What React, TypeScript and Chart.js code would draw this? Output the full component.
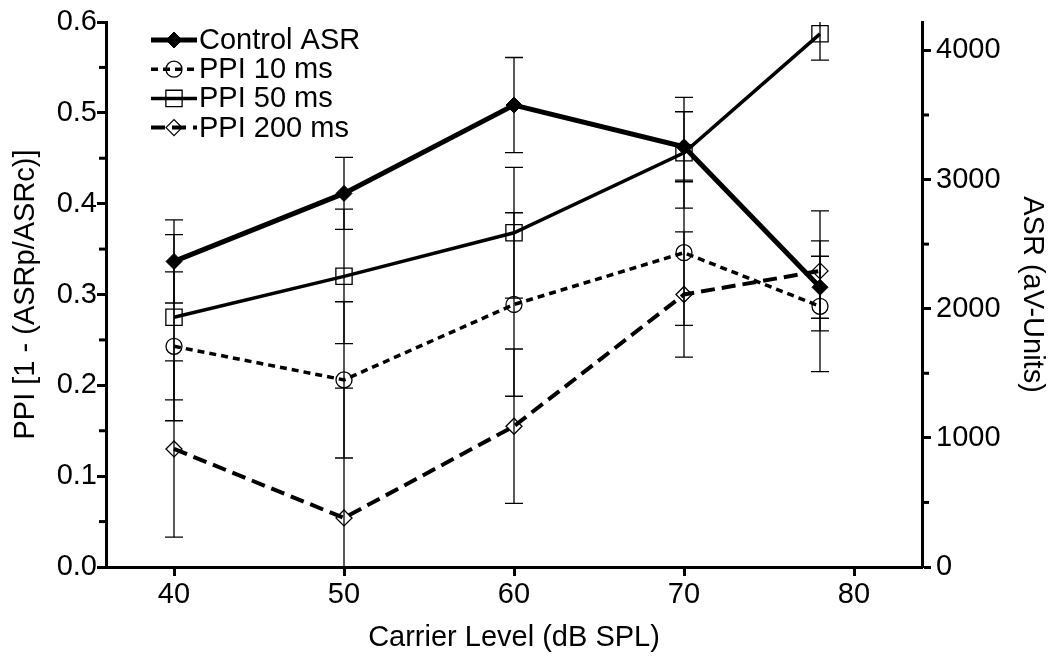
import React, { useEffect, useRef } from 'react';
import { Chart, registerables } from 'chart.js';

Chart.register(...registerables);

// ---- Data ----
const carrierLevels = [40, 50, 60, 70, 78];

const controlASR = [2366, 2893, 3577, 3254, 2166];
const controlASRErr = [322, 279, 368, 271, 240];

const ppi10 = [0.243, 0.206, 0.289, 0.346, 0.287];
const ppi10Err = [0.082, 0.086, 0.101, 0.08, 0.072];

const ppi50 = [0.275, 0.32, 0.368, 0.456, 0.587];
const ppi50Err = [0.091, 0.074, 0.072, 0.061, 0.029];

const ppi200 = [0.13, 0.054, 0.155, 0.3, 0.326];
const ppi200Err = [0.097, 0.143, 0.085, 0.069, 0.066];

const xTickValues = [40, 50, 60, 70, 80];
const leftTickValues = [0, 0.1, 0.2, 0.3, 0.4, 0.5, 0.6];
const leftMinorTicks = [0.05, 0.15, 0.25, 0.35, 0.45, 0.55];
const rightTickValues = [0, 1000, 2000, 3000, 4000];
const rightMinorTicks = [500, 1500, 2500, 3500];

const seriesLabels = ['Control ASR', 'PPI 10 ms', 'PPI 50 ms', 'PPI 200 ms'];

const xTitle = 'Carrier Level (dB SPL)';
const leftTitle = 'PPI [1 - (ASRp/ASRc)]';
const rightTitle = 'ASR (aV-Units)';

// ---- Styling ----
const FAMILY = '"Liberation Sans", Arial, Helvetica, sans-serif';
const FONT_SIZE = 29;
const fontObj = { family: FAMILY, size: FONT_SIZE, lineHeight: 1 };

function toXY(ys: number[]) {
  return carrierLevels.map((x, i) => ({ x, y: ys[i] }));
}

function drawMarker(ctx: CanvasRenderingContext2D, style: string, x: number, y: number, r: number, fill: string, bw: number) {
  ctx.save();
  ctx.beginPath();
  if (style === 'circle') {
    ctx.arc(x, y, r, 0, Math.PI * 2);
  } else if (style === 'rect') {
    const s = Math.SQRT1_2 * r;
    ctx.rect(x - s, y - s, 2 * s, 2 * s);
  } else {
    ctx.moveTo(x - r, y);
    ctx.lineTo(x, y - r);
    ctx.lineTo(x + r, y);
    ctx.lineTo(x, y + r);
    ctx.closePath();
  }
  ctx.fillStyle = fill;
  ctx.fill();
  ctx.lineWidth = bw;
  ctx.strokeStyle = '#000';
  ctx.setLineDash([]);
  ctx.stroke();
  ctx.restore();
}

const errorBarPlugin = {
  id: 'errorBars',
  beforeDatasetsDraw(chart: any) {
    const ctx = chart.ctx;
    const area = chart.chartArea;
    ctx.save();
    ctx.beginPath();
    ctx.rect(area.left, area.top, area.right - area.left, area.bottom - area.top);
    ctx.clip();
    ctx.strokeStyle = '#000';
    ctx.lineWidth = 1.3;
    ctx.setLineDash([]);
    chart.data.datasets.forEach((ds: any, i: number) => {
      const meta = chart.getDatasetMeta(i);
      const yScale = chart.scales[ds.yAxisID];
      const errs: number[] = ds.errors || [];
      meta.data.forEach((pt: any, j: number) => {
        const v = ds.data[j].y;
        const e = errs[j];
        if (e == null) return;
        const x = pt.x;
        const yt = yScale.getPixelForValue(v + e);
        const yb = yScale.getPixelForValue(v - e);
        const cap = 9;
        ctx.beginPath();
        ctx.moveTo(x, yt);
        ctx.lineTo(x, yb);
        ctx.moveTo(x - cap, yt);
        ctx.lineTo(x + cap, yt);
        ctx.moveTo(x - cap, yb);
        ctx.lineTo(x + cap, yb);
        ctx.stroke();
      });
    });
    ctx.restore();
  },
};

const minorTickPlugin = {
  id: 'minorTicks',
  afterDraw(chart: any) {
    const ctx = chart.ctx;
    const area = chart.chartArea;
    const yl = chart.scales.y;
    const yr = chart.scales.y1;
    ctx.save();
    ctx.strokeStyle = '#000';
    ctx.lineWidth = 3;
    leftMinorTicks.forEach((v) => {
      const py = yl.getPixelForValue(v);
      ctx.beginPath();
      ctx.moveTo(area.left, py);
      ctx.lineTo(area.left - 7, py);
      ctx.stroke();
    });
    rightMinorTicks.forEach((v) => {
      const py = yr.getPixelForValue(v);
      ctx.beginPath();
      ctx.moveTo(area.right, py);
      ctx.lineTo(area.right + 7, py);
      ctx.stroke();
    });
    ctx.restore();
  },
};

const legendPlugin = {
  id: 'insideLegend',
  afterDraw(chart: any) {
    const ctx = chart.ctx;
    const x0 = 151;
    const x1 = 197;
    const top = 40;
    const gap = 29.2;
    chart.data.datasets.forEach((ds: any, i: number) => {
      const yRow = top + i * gap;
      ctx.save();
      ctx.strokeStyle = '#000';
      ctx.lineWidth = ds.borderWidth;
      ctx.setLineDash(ds.borderDash || []);
      ctx.beginPath();
      ctx.moveTo(x0, yRow);
      ctx.lineTo(x1, yRow);
      ctx.stroke();
      ctx.setLineDash([]);
      drawMarker(ctx, ds.pointStyle, (x0 + x1) / 2, yRow, ds.pointRadius, ds.pointBackgroundColor, ds.pointBorderWidth);
      ctx.fillStyle = '#000';
      ctx.font = `${FONT_SIZE}px ${FAMILY}`;
      ctx.textBaseline = 'middle';
      ctx.textAlign = 'left';
      ctx.fillText(ds.label, x1 + 2, yRow + 1);
      ctx.restore();
    });
  },
};

export default function App() {
  const canvasRef = useRef<HTMLCanvasElement | null>(null);

  useEffect(() => {
    if (!canvasRef.current) return;
    const chart = new Chart(canvasRef.current, {
      type: 'line',
      data: {
        datasets: [
          {
            label: seriesLabels[0],
            data: toXY(controlASR),
            errors: controlASRErr,
            yAxisID: 'y1',
            borderColor: '#000',
            borderWidth: 5,
            pointStyle: 'rectRot',
            pointRadius: 8,
            pointBackgroundColor: '#000',
            pointBorderColor: '#000',
            pointBorderWidth: 1,
            tension: 0,
          } as any,
          {
            label: seriesLabels[1],
            data: toXY(ppi10),
            errors: ppi10Err,
            yAxisID: 'y',
            borderColor: '#000',
            borderWidth: 3.5,
            borderDash: [7, 5],
            pointStyle: 'circle',
            pointRadius: 8,
            pointBackgroundColor: 'rgba(255,255,255,0)',
            pointBorderColor: '#000',
            pointBorderWidth: 1.3,
            tension: 0,
          } as any,
          {
            label: seriesLabels[2],
            data: toXY(ppi50),
            errors: ppi50Err,
            yAxisID: 'y',
            borderColor: '#000',
            borderWidth: 3.5,
            pointStyle: 'rect',
            pointRadius: 11.5,
            pointBackgroundColor: 'rgba(255,255,255,0)',
            pointBorderColor: '#000',
            pointBorderWidth: 1.3,
            tension: 0,
          } as any,
          {
            label: seriesLabels[3],
            data: toXY(ppi200),
            errors: ppi200Err,
            yAxisID: 'y',
            borderColor: '#000',
            borderWidth: 4,
            borderDash: [14, 7],
            pointStyle: 'rectRot',
            pointRadius: 8,
            pointBackgroundColor: 'rgba(255,255,255,0)',
            pointBorderColor: '#000',
            pointBorderWidth: 1.3,
            tension: 0,
          } as any,
        ],
      },
      options: {
        animation: false,
        responsive: true,
        maintainAspectRatio: false,
        layout: { padding: { top: 22, left: 0, right: 0, bottom: 0 } },
        plugins: {
          legend: { display: false },
          tooltip: { enabled: false },
        },
        scales: {
          x: {
            type: 'linear',
            position: 'bottom',
            min: 36,
            max: 84,
            afterBuildTicks: (scale: any) => {
              scale.ticks = xTickValues.map((value) => ({ value }));
            },
            afterFit: (scale: any) => {
              scale.height = 96;
            },
            ticks: {
              autoSkip: false,
              maxRotation: 0,
              padding: 4,
              color: '#000',
              font: fontObj,
              callback: (v: any) => String(v),
            },
            grid: {
              drawOnChartArea: false,
              drawTicks: true,
              tickLength: 9,
              tickWidth: 3,
              tickColor: '#000',
            },
            border: { display: true, color: '#000', width: 3 },
            title: {
              display: true,
              text: xTitle,
              color: '#000',
              font: fontObj,
              padding: { top: 0, bottom: 11 },
            },
          },
          y: {
            type: 'linear',
            position: 'left',
            min: 0,
            max: 0.6,
            afterBuildTicks: (scale: any) => {
              scale.ticks = leftTickValues.map((value) => ({ value }));
            },
            afterFit: (scale: any) => {
              scale.width = 106;
            },
            ticks: {
              padding: 0,
              color: '#000',
              font: fontObj,
              callback: (v: any) => Number(v).toFixed(1),
            },
            grid: {
              drawOnChartArea: false,
              drawTicks: true,
              tickLength: 9,
              tickWidth: 3,
              tickColor: '#000',
            },
            border: { display: true, color: '#000', width: 3 },
            title: {
              display: true,
              text: leftTitle,
              color: '#000',
              font: fontObj,
              padding: { top: 11, bottom: 0 },
            },
          },
          y1: {
            type: 'linear',
            position: 'right',
            min: 0,
            max: 4220,
            afterBuildTicks: (scale: any) => {
              scale.ticks = rightTickValues.map((value) => ({ value }));
            },
            afterFit: (scale: any) => {
              scale.width = 128;
            },
            ticks: {
              padding: 5,
              color: '#000',
              font: fontObj,
              callback: (v: any) => String(v),
            },
            grid: {
              drawOnChartArea: false,
              drawTicks: true,
              tickLength: 9,
              tickWidth: 3,
              tickColor: '#000',
            },
            border: { display: true, color: '#000', width: 3 },
            title: {
              display: true,
              text: rightTitle,
              color: '#000',
              font: fontObj,
              padding: { top: 4, bottom: 0 },
            },
          },
        },
      } as any,
      plugins: [errorBarPlugin, minorTickPlugin, legendPlugin],
    });
    return () => chart.destroy();
  }, []);

  return (
    <div style={{ position: 'fixed', left: 0, top: 0, width: 1050, height: 663, background: '#fff' }}>
      <canvas ref={canvasRef} />
    </div>
  );
}
